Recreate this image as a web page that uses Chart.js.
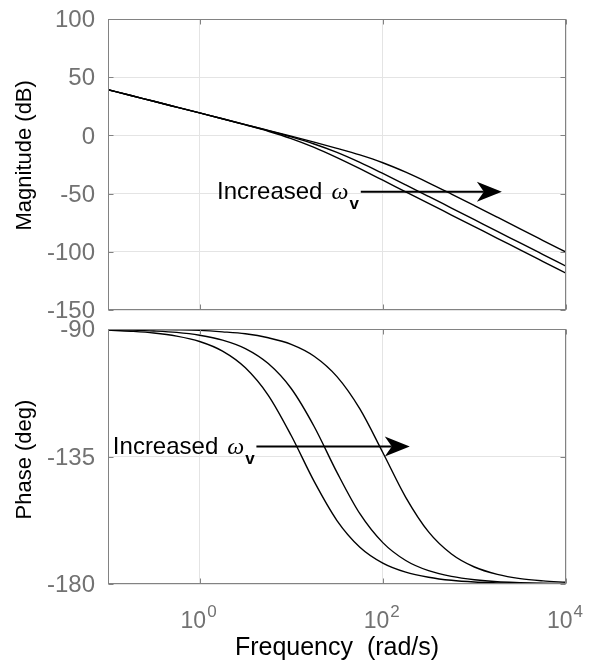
<!DOCTYPE html>
<html>
<head>
<meta charset="utf-8">
<script src="https://cdn.jsdelivr.net/npm/chart.js@4.4.1/dist/chart.umd.min.js"></script>
<style>
  html, body { margin: 0; padding: 0; background: #fff; }
  #wrap { position: relative; width: 591px; height: 670px; }
  #magChart { position: absolute; left: 0; top: 0; }
  #phaseChart { position: absolute; left: 0; top: 300px; }
</style>
</head>
<body>
<div id="wrap">
  <canvas id="magChart" width="591" height="325"></canvas>
  <canvas id="phaseChart" width="591" height="370"></canvas>
</div>
<script>
// frequencies (rad/s)
const freqs = [0.1, 0.178, 0.316, 0.562, 1, 1.78, 3.16, 5.62, 10, 17.8, 31.6, 56.2,
               100, 178, 316, 562, 1000, 1780, 3160, 5620, 10000];

// magnitude (dB), lowest omega_v first
const magLow  = [39.3, 34.3, 29.3, 24.3, 19.3, 14.2, 9.0, 3.6, -2.7, -10.3, -19.1, -28.6,
                 -38.5, -48.5, -58.4, -68.4, -78.4, -88.4, -98.4, -108.4, -118.4];
const magMid  = [39.3, 34.3, 29.3, 24.3, 19.3, 14.3, 9.2, 4.1, -1.3, -7.4, -14.6, -23.2,
                 -32.7, -42.5, -52.4, -62.4, -72.4, -82.4, -92.4, -102.4, -112.4];
const magHigh = [39.3, 34.3, 29.3, 24.3, 19.3, 14.3, 9.3, 4.3, -0.7, -5.8, -11.1, -16.8,
                 -23.5, -31.6, -40.7, -50.4, -60.3, -70.3, -80.3, -90.3, -100.3];

// phase (deg)
const phaseLow  = [-90.4, -90.8, -91.4, -92.5, -94.4, -97.8, -103.7, -113.4, -127.6, -143.8, -157.6, -167.0,
                   -172.6, -175.8, -177.6, -178.7, -179.3, -179.6, -179.8, -179.9, -179.9];
const phaseMid  = [-90.2, -90.4, -90.7, -91.2, -92.2, -93.9, -96.9, -102.2, -111.0, -124.4, -140.6, -155.2,
                   -165.4, -171.7, -175.3, -177.3, -178.5, -179.2, -179.5, -179.7, -179.8];
const phaseHigh = [-90.1, -90.1, -90.2, -90.3, -90.5, -91.0, -91.7, -93.1, -95.4, -99.6, -106.8, -118.2,
                   -133.6, -149.4, -161.6, -169.4, -174.0, -176.6, -178.1, -178.9, -179.4];

// axes
const xTickValues = [1, 100, 10000];
const xTickExponents = ['0', '2', '4'];
const magRange = [-150, 100, 50];
const phaseRange = [-180, -90, 45];

// "Increased omega_v" notes: [text start freq, arrow start freq, arrow tip freq, y value]
const magNote = [1.55, 57.5, 1995, -48.4];
const phaseNote = [0.113, 4.17, 197, -131.5];

const FONT = '"Liberation Sans", Arial, Helvetica, sans-serif';
const GRID = '#e4e4e4';
const FRAME = '#828282';
const TICKTXT = '#727272';

function toPoints(ys) {
    let pts = [];
    for (let i = 0; i < freqs.length; i++) {
        pts.push({ x: freqs[i], y: ys[i] });
    }
    return pts;
}

function lineSet(ys) {
    return {
        data: toPoints(ys),
        borderColor: '#000',
        borderWidth: 1.4,
        pointRadius: 0,
        fill: false,
        cubicInterpolationMode: 'monotone'
    };
}

// box round the plot area with small inward ticks
const framePlugin = {
    id: 'frame',
    afterDraw(chart) {
        const ctx = chart.ctx;
        const a = chart.chartArea;
        const l = Math.round(a.left) + 0.5, r = Math.round(a.right) - 0.5;
        const t = Math.round(a.top) + 0.5, b = Math.round(a.bottom) - 0.5;
        ctx.save();
        ctx.strokeStyle = FRAME;
        ctx.lineWidth = 1;
        ctx.strokeRect(l, t, r - l, b - t);
        ctx.beginPath();
        chart.scales.y.ticks.forEach(tk => {
            const py = Math.round(chart.scales.y.getPixelForValue(tk.value)) + 0.5;
            ctx.moveTo(l, py); ctx.lineTo(l + 5, py);
            ctx.moveTo(r, py); ctx.lineTo(r - 5, py);
        });
        xTickValues.forEach(v => {
            const px = Math.round(chart.scales.x.getPixelForValue(v)) + 0.5;
            ctx.moveTo(px, t); ctx.lineTo(px, t + 5);
            ctx.moveTo(px, b); ctx.lineTo(px, b - 5);
        });
        ctx.stroke();
        ctx.restore();
    }
};

function drawNote(chart, note) {
    const ctx = chart.ctx;
    const xs = chart.scales.x, ys = chart.scales.y;
    const tx = xs.getPixelForValue(note[0]);
    const a0 = xs.getPixelForValue(note[1]);
    const a1 = xs.getPixelForValue(note[2]);
    const y = ys.getPixelForValue(note[3]);
    ctx.save();
    ctx.fillStyle = '#000';
    ctx.textBaseline = 'alphabetic';
    ctx.font = '24px ' + FONT;
    ctx.fillText('Increased', tx, y + 7);
    const w1 = ctx.measureText('Increased').width + 9;
    ctx.font = 'italic 24px "Liberation Serif", "DejaVu Serif", serif';
    ctx.fillText('\u03c9', tx + w1, y + 7);
    const w2 = ctx.measureText('\u03c9').width;
    ctx.font = 'bold 17px ' + FONT;
    ctx.fillText('v', tx + w1 + w2 + 1, y + 17);
    // arrow
    ctx.strokeStyle = '#000';
    ctx.lineWidth = 2;
    ctx.beginPath();
    ctx.moveTo(a0, y);
    ctx.lineTo(a1 - 18, y);
    ctx.stroke();
    ctx.beginPath();
    ctx.moveTo(a1, y);
    ctx.lineTo(a1 - 25, y - 10);
    ctx.lineTo(a1 - 18, y);
    ctx.lineTo(a1 - 25, y + 10);
    ctx.closePath();
    ctx.fill();
    ctx.restore();
}

function xAxis(showTitle) {
    return {
        type: 'logarithmic',
        min: 0.1,
        max: 10000,
        afterBuildTicks: (scale) => {
            scale.ticks = xTickValues.map(v => ({ value: v }));
        },
        afterFit: (scale) => {
            scale.height = showTitle ? 86 : 0;
            scale.paddingLeft = 0;
            scale.paddingRight = 0;
        },
        grid: { color: GRID, lineWidth: 1, drawTicks: false },
        border: { display: false },
        ticks: { display: false },
        title: {
            display: showTitle,
            text: 'Frequency  (rad/s)',
            color: '#000',
            font: { family: FONT, size: 25, lineHeight: 1 },
            padding: { top: 0, bottom: 9 }
        }
    };
}

function yAxis(range, title) {
    return {
        type: 'linear',
        min: range[0],
        max: range[1],
        afterFit: (scale) => {
            scale.width = 108;
            scale.paddingTop = 0;
            scale.paddingBottom = 0;
        },
        grid: { color: GRID, lineWidth: 1, drawTicks: false },
        border: { display: false },
        ticks: {
            stepSize: range[2],
            color: TICKTXT,
            font: { family: FONT, size: 24 },
            padding: 13,
            labelOffset: 1.5
        },
        title: {
            display: true,
            text: title,
            color: '#000',
            font: { family: FONT, size: 22, lineHeight: 1.2 },
            padding: { top: 12, bottom: 0 }
        }
    };
}

let magChart = new Chart(document.getElementById('magChart'), {
    type: 'line',
    data: { datasets: [lineSet(magLow), lineSet(magMid), lineSet(magHigh)] },
    options: {
        responsive: false,
        animation: false,
        layout: { padding: { left: 0, top: 19, right: 25, bottom: 15 } },
        plugins: { legend: { display: false }, tooltip: { enabled: false } },
        scales: { x: xAxis(false), y: yAxis(magRange, '   Magnitude (dB)') }
    },
    plugins: [framePlugin, { id: 'magNote', afterDraw: (c) => drawNote(c, magNote) }]
});

// x tick labels with raised exponent
const decadeLabels = {
    id: 'decadeLabels',
    afterDraw(chart) {
        const ctx = chart.ctx;
        const b = chart.chartArea.bottom;
        ctx.save();
        ctx.fillStyle = TICKTXT;
        ctx.textBaseline = 'alphabetic';
        xTickValues.forEach((v, i) => {
            const px = chart.scales.x.getPixelForValue(v);
            ctx.font = '23px ' + FONT;
            const wb = ctx.measureText('10').width;
            ctx.font = '17px ' + FONT;
            const we = ctx.measureText(xTickExponents[i]).width;
            const x0 = px - (wb + we + 1) / 2 - 1;
            ctx.font = '23px ' + FONT;
            ctx.fillText('10', x0, b + 43.5);
            ctx.font = '17px ' + FONT;
            ctx.fillText(xTickExponents[i], x0 + wb + 1, b + 33);
        });
        ctx.restore();
    }
};

let phaseChart = new Chart(document.getElementById('phaseChart'), {
    type: 'line',
    data: { datasets: [lineSet(phaseLow), lineSet(phaseMid), lineSet(phaseHigh)] },
    options: {
        responsive: false,
        animation: false,
        layout: { padding: { left: 0, top: 29, right: 25, bottom: 0 } },
        plugins: { legend: { display: false }, tooltip: { enabled: false } },
        scales: { x: xAxis(true), y: yAxis(phaseRange, 'Phase (deg) ') }
    },
    plugins: [framePlugin, decadeLabels, { id: 'phaseNote', afterDraw: (c) => drawNote(c, phaseNote) }]
});
</script>
</body>
</html>
